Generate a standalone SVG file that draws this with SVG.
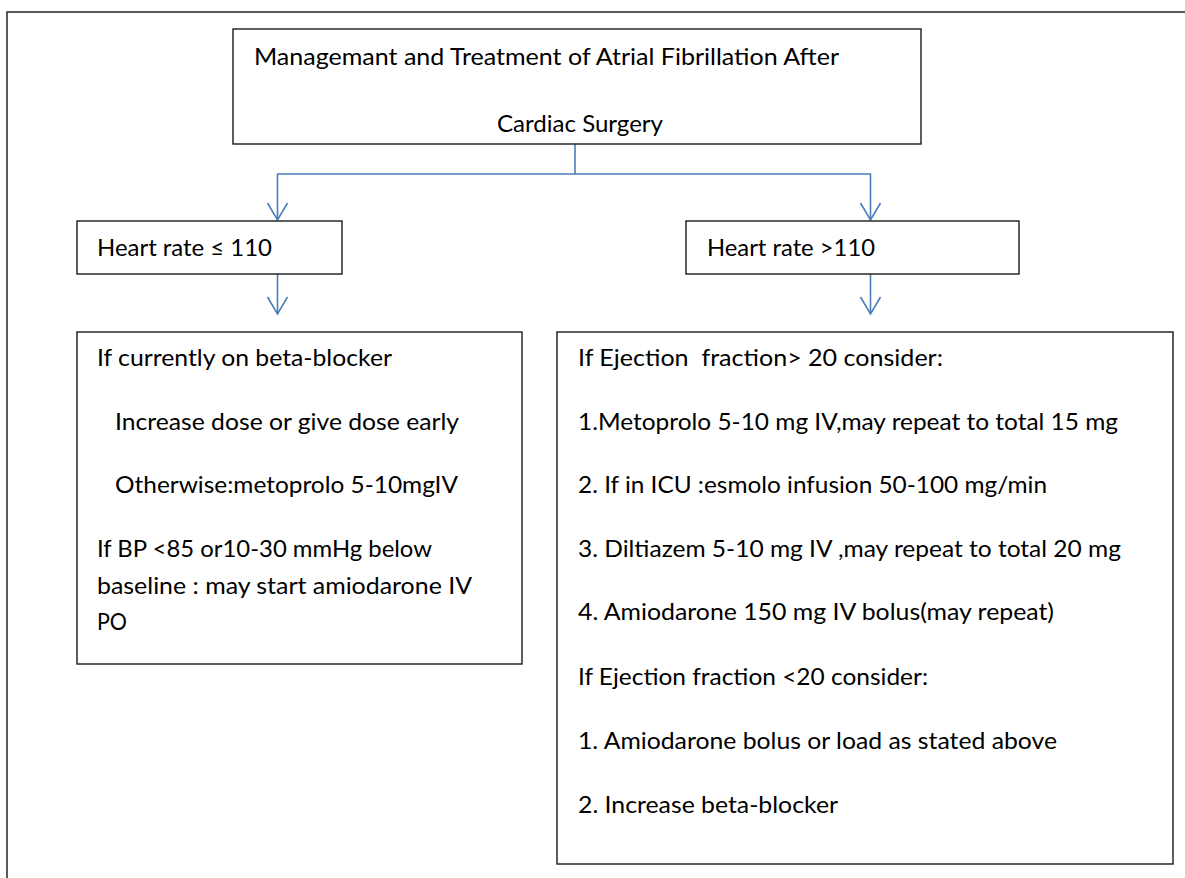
<svg xmlns="http://www.w3.org/2000/svg" width="1185" height="878" viewBox="0 0 1185 878">
  <style>
    .box { fill: #ffffff; stroke: #1a1a1a; stroke-width: 1.4; }
    .frame { fill: #ffffff; stroke: #333333; stroke-width: 1.6; }
    .t { font-family: Lato, "Open Sans", "Liberation Sans", sans-serif; font-size: 24px; fill: #000000; }
    .conn { fill: none; stroke: #4a7ebb; stroke-width: 1.6; }
  </style>
  <defs>
    <marker id="arrow" markerUnits="userSpaceOnUse" orient="auto" refX="0" refY="0" markerWidth="20" markerHeight="24" overflow="visible">
      <path d="M-17,-10 L0,0 L-17,10" fill="none" stroke="#4a7ebb" stroke-width="1.6"/>
    </marker>
  </defs>

  <rect class="frame" x="7" y="12" width="1200" height="900"/>

  <g id="connectors">
    <path class="conn" d="M575,144 V174"/>
    <path class="conn" d="M575,174 H277.5 V220" marker-end="url(#arrow)"/>
    <path class="conn" d="M575,174 H870.5 V220" marker-end="url(#arrow)"/>
    <path class="conn" d="M277.5,274 V314" marker-end="url(#arrow)"/>
    <path class="conn" d="M870.5,274 V314" marker-end="url(#arrow)"/>
  </g>

  <g id="title">
    <rect class="box" x="233" y="29" width="688" height="115"/>
    <text class="t" x="254" y="65" textLength="585" lengthAdjust="spacingAndGlyphs">Managemant and Treatment of Atrial Fibrillation After</text>
    <text class="t" x="497" y="132" textLength="166" lengthAdjust="spacingAndGlyphs">Cardiac Surgery</text>
  </g>

  <g id="hr-low">
    <rect class="box" x="77" y="221" width="265" height="53"/>
    <text class="t" x="97" y="256" textLength="175" lengthAdjust="spacingAndGlyphs">Heart rate ≤ 110</text>
  </g>

  <g id="hr-high">
    <rect class="box" x="686" y="221" width="333" height="53"/>
    <text class="t" x="707" y="256" textLength="168" lengthAdjust="spacingAndGlyphs">Heart rate &gt;110</text>
  </g>

  <g id="low-treatment">
    <rect class="box" x="77" y="332" width="445" height="332"/>
    <text class="t" x="97" y="366" textLength="295" lengthAdjust="spacingAndGlyphs">If currently on beta-blocker</text>
    <text class="t" x="115" y="430" textLength="344" lengthAdjust="spacingAndGlyphs">Increase dose or give dose early</text>
    <text class="t" x="115" y="493" textLength="343" lengthAdjust="spacingAndGlyphs">Otherwise:metoprolo 5-10mgIV</text>
    <text class="t" x="97" y="557" textLength="335" lengthAdjust="spacingAndGlyphs">If BP &lt;85 or10-30 mmHg below</text>
    <text class="t" x="97" y="594" textLength="375" lengthAdjust="spacingAndGlyphs">baseline : may start amiodarone IV</text>
    <text class="t" x="97" y="630" textLength="30" lengthAdjust="spacingAndGlyphs">PO</text>
  </g>

  <g id="high-treatment">
    <rect class="box" x="557" y="332" width="616" height="532"/>
    <text class="t" x="578" y="366" textLength="365" lengthAdjust="spacingAndGlyphs" xml:space="preserve">If Ejection  fraction&gt; 20 consider:</text>
    <text class="t" x="578" y="430" textLength="540" lengthAdjust="spacingAndGlyphs">1.Metoprolo 5-10 mg IV,may repeat to total 15 mg</text>
    <text class="t" x="578" y="493" textLength="469" lengthAdjust="spacingAndGlyphs">2. If in ICU :esmolo infusion 50-100 mg/min</text>
    <text class="t" x="578" y="557" textLength="543" lengthAdjust="spacingAndGlyphs">3. Diltiazem 5-10 mg IV ,may repeat to total 20 mg</text>
    <text class="t" x="578" y="620" textLength="476" lengthAdjust="spacingAndGlyphs">4. Amiodarone 150 mg IV bolus(may repeat)</text>
    <text class="t" x="578" y="685" textLength="350" lengthAdjust="spacingAndGlyphs">If Ejection fraction &lt;20 consider:</text>
    <text class="t" x="578" y="749" textLength="479" lengthAdjust="spacingAndGlyphs">1. Amiodarone bolus or load as stated above</text>
    <text class="t" x="578" y="813" textLength="260" lengthAdjust="spacingAndGlyphs">2. Increase beta-blocker</text>
  </g>
</svg>
